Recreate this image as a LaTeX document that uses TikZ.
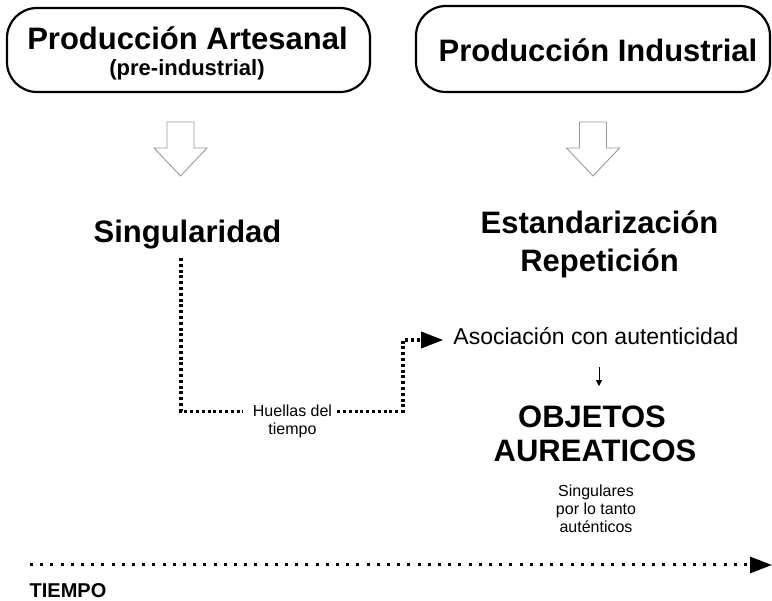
\documentclass[tikz,border=0pt]{standalone}
\usepackage{fontspec}
\setmainfont{Liberation Sans}
\usetikzlibrary{arrows.meta}
\begin{document}
\begin{tikzpicture}[x=1pt,y=-1pt,
  box/.style={draw, line width=2.2pt, rounded corners=30pt, inner sep=0pt},
  txt/.style={inner sep=0pt, anchor=base},
  bigb/.style={txt, font=\fontsize{31}{36}\selectfont\bfseries},
  subb/.style={txt, font=\fontsize{22}{26}\selectfont\bfseries},
  midr/.style={txt, font=\fontsize{23}{27}\selectfont},
  smallr/.style={txt, font=\fontsize{16}{18}\selectfont},
  timeb/.style={txt, font=\fontsize{20}{24}\selectfont\bfseries},
  hollow/.style={draw=black!40, line width=0.9pt, fill=white, line join=miter},
  dotline/.style={line width=3.2pt, dash pattern=on 3pt off 2.8pt},
  axisline/.style={line width=3pt, dash pattern=on 3pt off 7.2pt},
  bighead/.style={-{Triangle[length=22pt,width=16pt]}},
  smallhead/.style={-{Triangle[length=6pt,width=6pt]}, line width=1pt}
]
\useasboundingbox (0,0) rectangle (772,601);

% boxes
\node[box, minimum width=363pt, minimum height=84pt] (boxA) at (188.5,50) {};
\node[box, minimum width=354pt, minimum height=86pt] (boxI) at (593,49) {};
\node[bigb] (tA) at (187.5,50) {Producción Artesanal};
\node[subb] (tA2) at (187,76) {(pre-industrial)};
\node[bigb] (tI) at (598,62) {Producción Industrial};

% hollow block arrows
\draw[hollow] (167,122) -- (194,122) -- (194,148) -- (207,148) -- (180.5,176) -- (154,148) -- (167,148) -- cycle;
\draw[hollow] (579.5,122) -- (606.5,122) -- (606.5,148) -- (619.5,148) -- (593,176) -- (566.5,148) -- (579.5,148) -- cycle;

% left column
\node[bigb] (sing) at (187.5,243) {Singularidad};

% right column
\node[bigb] (est1) at (599.5,234) {Estandarización};
\node[bigb] (est2) at (599.5,272) {Repetición};
\node[midr] (asoc) at (596,345) {Asociación con autenticidad};
\node[bigb] (obj1) at (592,428) {OBJETOS};
\node[bigb] (obj2) at (595,462) {AUREATICOS};
\node[smallr] (sg1) at (596,497) {Singulares};
\node[smallr] (sg2) at (596,515) {por lo tanto};
\node[smallr] (sg3) at (596,533) {auténticos};

% huellas
\node[smallr] (h1) at (292.5,417) {Huellas del};
\node[smallr] (h2) at (292.5,435) {tiempo};

\coordinate (s0) at (181,258);
\coordinate (bend) at (403,340);
\draw[dotline] (s0) |- ([xshift=-10pt]h1.west);
\draw[dotline, bighead] ([xshift=5pt]h1.west -| h1.east) -| (bend) -- ([xshift=-10pt]asoc.west |- bend);

\draw[smallhead] ([xshift=3pt,yshift=-22pt]asoc.south) -- ([xshift=7pt,yshift=20pt]obj1.north);

% time axis
\coordinate (t0) at (30,565);
\coordinate (t1) at (772,565);
\draw[axisline, bighead] (t0) -- (t1);
\node[timeb] (tiempo) at (68,598) {TIEMPO};
\end{tikzpicture}
\end{document}
